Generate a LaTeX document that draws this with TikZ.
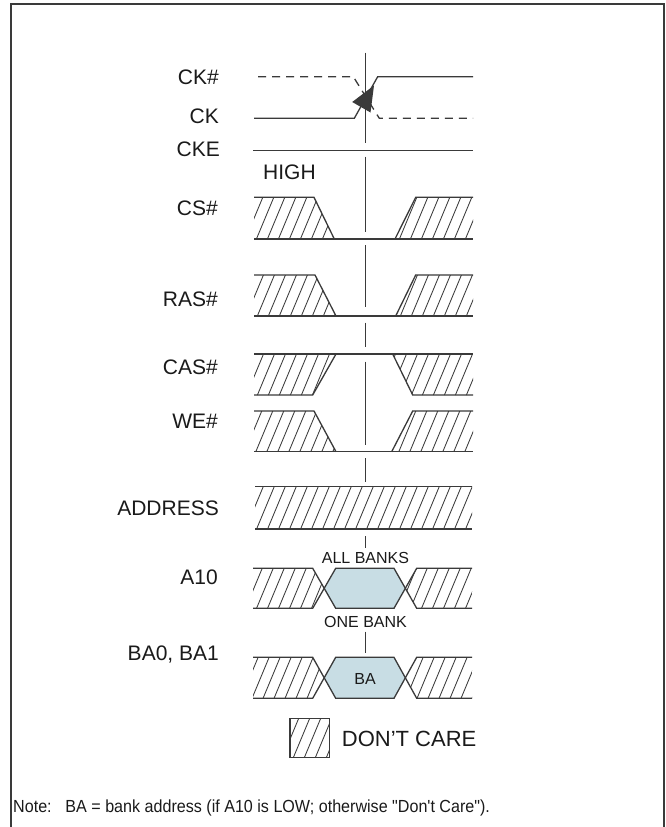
\documentclass[tikz,border=0pt]{standalone}
\usepackage{fontspec}
\usepackage{graphicx}
\setmainfont{Liberation Sans}
\newfontfamily\notefont[Ligatures=TeXOff]{Liberation Sans}
\definecolor{ln}{HTML}{3A3A3A}
\definecolor{txt}{HTML}{1A1A1A}
\definecolor{bafill}{RGB}{200,221,228}
\tikzset{
  wave/.style={draw=ln, line width=1.3pt, line join=miter},
  hatchline/.style={draw=ln, line width=0.85pt},
  dashwave/.style={draw=ln, line width=1.3pt, dash pattern=on 8pt off 6pt},
  centerline/.style={draw=ln, line width=1.3pt},
  lbl/.style={anchor=east, text=txt, font=\fontsize{21}{25}\selectfont, inner sep=0pt},
  lblw/.style={anchor=west, text=txt, font=\fontsize{21}{25}\selectfont, inner sep=0pt},
  smalllbl/.style={text=txt, font=\fontsize{16}{19}\selectfont, inner sep=0pt},
  busfill/.style={fill=bafill, draw=none},
}
\newcommand\dchatch[1]{%
  \begin{scope}
    \clip #1;
    \foreach \x in {-60,-49,...,470} \draw[hatchline] (\x,840) -- ++(350,-840);
  \end{scope}}
\begin{document}
\begin{tikzpicture}[x=1pt,y=-1pt]
\useasboundingbox (0,0) rectangle (665,827);
\fill[white] (0,0) rectangle (665,827);
% frame
\draw[ln, line width=2pt] (11,840) -- (11,4) -- (663.5,4) -- (663.5,840);

% labels
\node[lbl] (lck2) at (219,77) {CK\#};
\node[lbl] (lck) at (219,116) {CK};
\node[lbl] (lcke) at (220,149) {CKE};
\node[lblw] (lhigh) at (263,172.5) {HIGH};
\node[lbl] (lcs) at (218,208) {CS\#};
\node[lbl] (lras) at (218,299) {RAS\#};
\node[lbl] (lcas) at (218,367) {CAS\#};
\node[lbl] (lwe) at (218,421) {WE\#};
\node[lbl] (laddr) at (219,508) {ADDRESS};
\node[lbl] (la10) at (218,577) {A10};
\node[lbl] (lba) at (219,655) {BA0, BA1};

% center reference line
\draw[centerline] (365.7,52.7) -- (365.7,143);
\draw[centerline] (365.7,156.7) -- (365.7,231.7);
\draw[centerline] (365.7,245) -- (365.7,306.7);
\draw[centerline] (365.7,322.7) -- (365.7,346.7);
\draw[centerline] (365.7,361.7) -- (365.7,445);
\draw[centerline] (365.7,458.3) -- (365.7,481.7);
\draw[centerline] (365.7,536) -- (365.7,548.3);
\draw[centerline] (365.7,631.7) -- (365.7,652.7);

% clocks
\draw[dashwave] (258,76.7) -- (353.3,76.7) -- (379.3,118.3) -- (473,118.3);
\draw[wave] (254,118.3) -- (354.3,118.3) -- (377.7,76.7) -- (473,76.7);
\fill[ln] (374,85.5) -- (352.2,102) -- (370.5,112.5) -- cycle;
% CKE
\draw[wave] (253,150.7) -- (473,150.7);

% CS#
\dchatch{(254,197.3)--(314,197.3)--(334.3,239)--(254,239)--cycle}
\dchatch{(395,239)--(415.7,197.3)--(473,197.3)--(473,239)--cycle}
\draw[wave] (254,197.3)--(314,197.3)--(334.3,239);
\draw[wave] (395,239)--(415.7,197.3)--(473,197.3);
\draw[wave] (254,239)--(473,239);

% RAS#
\dchatch{(254,275)--(315,275)--(336,316)--(254,316)--cycle}
\dchatch{(395.7,316)--(415.7,275)--(473,275)--(473,316)--cycle}
\draw[wave] (254,275)--(315,275)--(336,316);
\draw[wave] (395.7,316)--(415.7,275)--(473,275);
\draw[wave] (254,316)--(473,316);

% CAS#
\dchatch{(254,354)--(336,354)--(312.7,395)--(254,395)--cycle}
\dchatch{(392.7,354)--(412.7,395)--(473,395)--(473,354)--cycle}
\draw[wave] (254,395)--(312.7,395)--(336,354);
\draw[wave] (392.7,354)--(412.7,395)--(473,395);
\draw[wave] (254,354)--(473,354);

% WE#
\dchatch{(254,411)--(314,411)--(336,451.7)--(254,451.7)--cycle}
\dchatch{(391.7,451.7)--(412.7,411)--(473,411)--(473,451.7)--cycle}
\draw[wave] (254,411)--(314,411)--(336,451.7);
\draw[wave] (391.7,451.7)--(412.7,411)--(473,411);
\draw[wave] (254,451.7)--(473,451.7);

% ADDRESS
\dchatch{(255,486.7) rectangle (472,529)}
\draw[wave] (255,486.7)--(472,486.7);
\draw[wave] (255,529)--(472,529);

% A10
\node[smalllbl] (allb) at (365.5,558) {ALL BANKS};
\dchatch{(253,568.3)--(312.7,568.3)--(324.2,588.3)--(312.7,608.3)--(253,608.3)--cycle}
\dchatch{(405.3,588.3)--(416.7,568.3)--(472,568.3)--(472,608.3)--(416.7,608.3)--cycle}
\fill[busfill] (324.2,588.3)--(335.7,568.3)--(394,568.3)--(405.3,588.3)--(394,608.3)--(335.7,608.3)--cycle;
\draw[wave] (253,568.3)--(312.7,568.3)--(335.7,608.3)--(394,608.3)--(416.7,568.3)--(472,568.3);
\draw[wave] (253,608.3)--(312.7,608.3)--(335.7,568.3)--(394,568.3)--(416.7,608.3)--(472,608.3);
\node[smalllbl] (oneb) at (365.5,621.5) {ONE BANK};

% BA0, BA1
\dchatch{(253,657.3)--(312.7,657.3)--(324.2,677.8)--(312.7,698.3)--(253,698.3)--cycle}
\dchatch{(405.3,677.8)--(416.7,657.3)--(472,657.3)--(472,698.3)--(416.7,698.3)--cycle}
\fill[busfill] (324.2,677.8)--(335.7,657.3)--(394,657.3)--(405.3,677.8)--(394,698.3)--(335.7,698.3)--cycle;
\draw[wave] (253,657.3)--(312.7,657.3)--(335.7,698.3)--(394,698.3)--(416.7,657.3)--(472,657.3);
\draw[wave] (253,698.3)--(312.7,698.3)--(335.7,657.3)--(394,657.3)--(416.7,698.3)--(472,698.3);
\node[smalllbl] (batext) at (365,679) {BA};

% legend
\dchatch{(290,718.3) rectangle (329.3,757.3)}
\draw[ln, line width=1.1pt] (290,718.3) rectangle (329.3,757.3);
\node[anchor=west, text=txt, font=\fontsize{22}{26}\selectfont, inner sep=0pt] (dc) at (341.7,739) {DON’T CARE};

% note
\node[anchor=west, text=txt, font=\notefont\fontsize{17.5}{21}\selectfont, inner sep=0pt] (note) at (13,808) {\scalebox{0.92}[1]{Note:\hspace{15pt}BA = bank address (if A10 is LOW; otherwise "Don't Care").}};
\end{tikzpicture}
\end{document}
